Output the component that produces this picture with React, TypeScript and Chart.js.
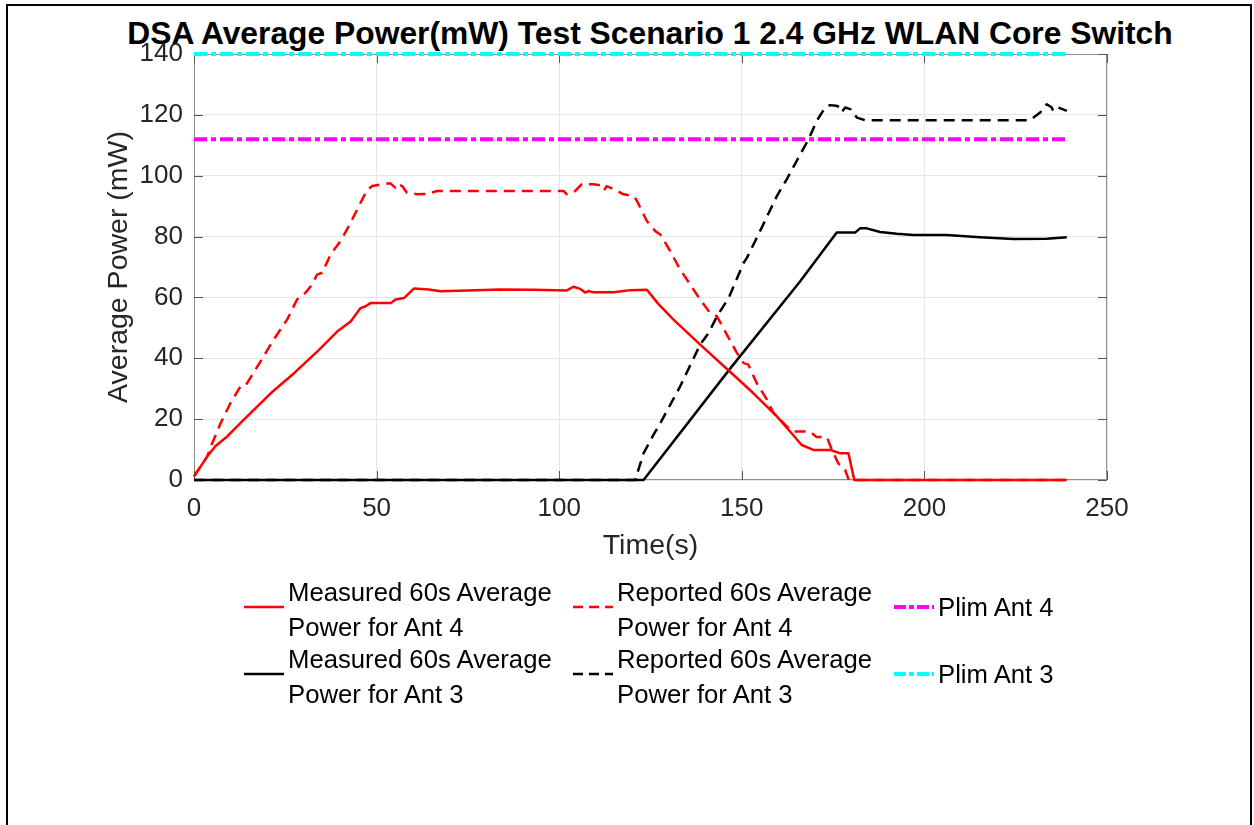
import React, { useEffect, useRef } from "react";
import { Chart, registerables } from "chart.js";

Chart.register(...registerables);

const TITLE = "DSA Average Power(mW) Test Scenario 1 2.4 GHz WLAN Core Switch";
const X_TITLE = "Time(s)";
const Y_TITLE = "Average Power (mW)";
const X_TICKS = [0, 50, 100, 150, 200, 250];
const Y_TICKS = [0, 20, 40, 60, 80, 100, 120, 140];

const measuredAnt4Time = [0, 3.6, 5.9, 9.1, 13.6, 21, 27.4, 33.8, 39.2, 42.9, 45.6, 47, 48.4, 53.9, 55.2, 57.5, 60.2, 64.3, 67.5, 74.8, 83.9, 93, 102.1, 103.9, 105.8, 107.1, 108, 109.4, 114.9, 119.5, 124, 127.2, 131.3, 138.6, 146.4, 153.2, 159.6, 162.8, 166.4, 169.6, 174.2, 176.9, 179.2, 180.8, 239];
const measuredAnt4Power = [1.2, 7.7, 11.2, 14.3, 19.8, 28.5, 35.1, 42.3, 48.8, 52.1, 56.5, 57.1, 58.2, 58.2, 59.3, 59.8, 62.9, 62.6, 62, 62.3, 62.6, 62.5, 62.3, 63.5, 62.8, 61.6, 62.1, 61.7, 61.7, 62.4, 62.5, 57.8, 52.7, 44.5, 36, 28.5, 20.9, 16.5, 11.5, 9.9, 9.9, 8.8, 8.8, 0, 0];

const reportedAnt4Time = [0, 3.6, 5, 7.3, 10, 12.7, 14.1, 16.8, 21.8, 25.5, 28.2, 30.5, 32.3, 33.7, 35.1, 37.4, 40.1, 42.4, 45.6, 47.4, 48.8, 51.5, 53.8, 55.1, 55.6, 57, 58.3, 61.1, 63.8, 66.6, 101.2, 102.1, 104.4, 106.2, 109.4, 111.4, 112.3, 113, 115.4, 117.6, 120.4, 121.3, 124, 126.3, 127.7, 130.4, 133.1, 135.9, 138.6, 141.3, 143.2, 145.9, 148.7, 150.5, 151.8, 154.1, 156.9, 158.7, 162.3, 164.2, 168.7, 170.5, 173.3, 174.7, 176.4, 178.3, 179.3, 239];
const reportedAnt4Power = [1.2, 7.7, 12.1, 18.7, 25.3, 30.7, 31, 36.2, 46.1, 52.7, 59.3, 61.5, 64.2, 67.5, 68.1, 74.1, 78.5, 83.4, 91.1, 95.3, 96.6, 97.2, 97.5, 96.1, 97.3, 96.6, 94.4, 93.9, 94, 95, 95, 93.9, 95, 97.2, 97.2, 96.8, 95.2, 96.6, 95.3, 93.9, 93.3, 91.7, 85.1, 81.8, 80.7, 75.2, 69.2, 64.2, 59.3, 54.9, 53.8, 47.8, 41.7, 38.4, 37.9, 31.8, 26.4, 22, 17.6, 15.9, 15.9, 14.1, 14.1, 9.9, 5.5, 3.3, 0, 0];

const measuredAnt3Time = [0, 123.1, 146.8, 166, 176, 181, 182.4, 184.2, 187.9, 192.4, 197, 206.1, 215.2, 224.4, 233.5, 239];
const measuredAnt3Power = [0, 0, 36.6, 65.3, 81.3, 81.3, 82.7, 82.7, 81.5, 80.9, 80.5, 80.5, 79.8, 79.2, 79.3, 79.8];

const reportedAnt3Time = [0, 120.8, 123.1, 125.8, 127.7, 133.1, 138.6, 140.9, 143.2, 146.4, 150.5, 151.4, 155, 159.6, 162.3, 166, 168.3, 170.5, 172.8, 174.2, 175.8, 177, 177.4, 178.3, 179.7, 181.5, 183.8, 228.9, 231.7, 233.5, 234.8, 235.3, 236.7, 239];
const reportedAnt3Power = [0, 0, 8.8, 14.8, 18.7, 30.7, 44.5, 48.3, 53.8, 59.8, 71.4, 73, 81.8, 93.3, 98.8, 107, 112, 118, 122.4, 123.2, 123, 122.5, 121, 122.4, 121.9, 119.1, 118.2, 118.2, 120.8, 123.5, 122.5, 121.2, 122.4, 121.3];

const plimAnt4Time = [0, 239];
const plimAnt4Power = [112, 112];
const plimAnt3Time = [0, 239];
const plimAnt3Power = [140, 140];

const FONT = "'Liberation Sans', Arial, Helvetica, sans-serif";
const DASH = [11, 7];
const DASH_DOT = [13, 4, 5, 4];

const toPoints = (t: number[], v: number[]) => t.map((x, i) => ({ x, y: v[i] }));

const LEGEND = [
  { lines: ["Measured 60s Average", "Power for Ant 4"], color: "#ff0000", dash: [] as number[], x: 244, y: 607 },
  { lines: ["Measured 60s Average", "Power for Ant 3"], color: "#000000", dash: [] as number[], x: 244, y: 674 },
  { lines: ["Reported 60s Average", "Power for Ant 4"], color: "#ff0000", dash: [10, 6], x: 573, y: 607 },
  { lines: ["Reported 60s Average", "Power for Ant 3"], color: "#000000", dash: [10, 6], x: 573, y: 674 },
  { lines: ["Plim Ant 4"], color: "#ff00ff", dash: [12, 3, 5, 3], x: 894, y: 607 },
  { lines: ["Plim Ant 3"], color: "#00ffff", dash: [12, 3, 5, 3], x: 894, y: 674 },
];

const boxPlugin = {
  id: "matlabBox",
  beforeDatasetsDraw(chart: any) {
    const { ctx, chartArea: a, scales } = chart;
    ctx.save();
    ctx.strokeStyle = "#8f8f8f";
    ctx.lineWidth = 1;
    ctx.strokeRect(Math.round(a.left) + 0.5, Math.round(a.top) + 0.5, Math.round(a.right - a.left) - 1, Math.round(a.bottom - a.top) - 1);
    ctx.strokeStyle = "#555555";
    const L = 9;
    ctx.beginPath();
    scales.x.ticks.forEach((t: any) => {
      const px = Math.round(scales.x.getPixelForValue(t.value)) + 0.5;
      ctx.moveTo(px, a.bottom);
      ctx.lineTo(px, a.bottom - L);
      ctx.moveTo(px, a.top);
      ctx.lineTo(px, a.top + L);
    });
    scales.y.ticks.forEach((t: any) => {
      const py = Math.round(scales.y.getPixelForValue(t.value)) + 0.5;
      ctx.moveTo(a.left, py);
      ctx.lineTo(a.left + L, py);
      ctx.moveTo(a.right, py);
      ctx.lineTo(a.right - L, py);
    });
    ctx.stroke();
    ctx.restore();
  },
};

export default function App() {
  const ref = useRef<HTMLCanvasElement | null>(null);
  useEffect(() => {
    if (!ref.current) return;
    const common = { pointRadius: 0, tension: 0, fill: false, clip: false as any, borderJoinStyle: "round" as const };
    const chart = new Chart(ref.current, {
      type: "line",
      data: {
        datasets: [
          { ...common, label: "Reported 60s Average Power for Ant 4", data: toPoints(reportedAnt4Time, reportedAnt4Power), borderColor: "#ff0000", borderWidth: 2.5, borderDash: DASH },
          { ...common, label: "Measured 60s Average Power for Ant 4", data: toPoints(measuredAnt4Time, measuredAnt4Power), borderColor: "#ff0000", borderWidth: 2.5 },
          { ...common, label: "Reported 60s Average Power for Ant 3", data: toPoints(reportedAnt3Time, reportedAnt3Power), borderColor: "#000000", borderWidth: 2.5, borderDash: DASH },
          { ...common, label: "Measured 60s Average Power for Ant 3", data: toPoints(measuredAnt3Time, measuredAnt3Power), borderColor: "#000000", borderWidth: 2.5 },
          { ...common, label: "Plim Ant 4", data: toPoints(plimAnt4Time, plimAnt4Power), borderColor: "#ff00ff", borderWidth: 4, borderDash: DASH_DOT },
          { ...common, label: "Plim Ant 3", data: toPoints(plimAnt3Time, plimAnt3Power), borderColor: "#00ffff", borderWidth: 4, borderDash: DASH_DOT },
        ],
      },
      options: {
        responsive: false,
        animation: false,
        devicePixelRatio: 1,
        layout: { padding: { left: 0, right: 147, top: 54, bottom: 0 } },
        plugins: {
          legend: { display: false },
          tooltip: { enabled: false },
          title: { display: false },
        },
        scales: {
          x: {
            type: "linear",
            min: 0,
            max: 250,
            afterBuildTicks: (s: any) => { s.ticks = X_TICKS.map((v) => ({ value: v })); },
            afterFit: (s: any) => { s.height = 345; },
            ticks: { color: "#262626", font: { family: FONT, size: 26 }, padding: 13, maxRotation: 0 },
            grid: { color: "#e6e6e6", drawTicks: false },
            border: { display: false },
            title: { display: true, text: X_TITLE, color: "#262626", font: { family: FONT, size: 28.5 }, padding: { top: 0, bottom: 262 } },
          },
          y: {
            type: "linear",
            min: 0,
            max: 140,
            afterBuildTicks: (s: any) => { s.ticks = Y_TICKS.map((v) => ({ value: v })); },
            afterFit: (s: any) => { s.width = 194; },
            ticks: { color: "#262626", font: { family: FONT, size: 26 }, padding: 11 },
            grid: { color: "#e6e6e6", drawTicks: false },
            border: { display: false },
            title: { display: true, text: Y_TITLE, color: "#262626", font: { family: FONT, size: 28.5 }, padding: { top: 102, bottom: 0 } },
          },
        },
      },
      plugins: [boxPlugin],
    });
    return () => chart.destroy();
  }, []);

  return (
    <div style={{ position: "fixed", left: 0, top: 0, width: 1254, height: 825, background: "#ffffff", overflow: "hidden" }}>
      <div style={{ position: "absolute", left: 6, top: 4, width: 1246, height: 900, border: "2px solid #000", boxSizing: "border-box" }} />
      <div
        style={{
          position: "absolute",
          left: 50,
          top: 14,
          width: 1200,
          textAlign: "center",
          fontFamily: FONT,
          fontWeight: "bold",
          fontSize: 31.8,
          lineHeight: "38px",
          color: "#000",
          whiteSpace: "nowrap",
        }}
      >
        {TITLE}
      </div>
      <canvas ref={ref} width={1254} height={825} style={{ position: "absolute", left: 0, top: 0, width: 1254, height: 825 }} />
      {LEGEND.map((e, i) => (
        <React.Fragment key={i}>
          <svg style={{ position: "absolute", left: e.x, top: e.y - 5 }} width={40} height={10}>
            <line x1={0} y1={5} x2={40} y2={5} stroke={e.color} strokeWidth={e.color === "#ff00ff" || e.color === "#00ffff" ? 4 : 2.5} strokeDasharray={e.dash.length ? e.dash.join(" ") : undefined} />
          </svg>
          <div
            style={{
              position: "absolute",
              left: e.x + 44,
              top: e.lines.length === 2 ? e.y - 32 : e.y - 17.5,
              fontFamily: FONT,
              fontSize: 25.7,
              lineHeight: "35px",
              color: "#000",
              whiteSpace: "nowrap",
            }}
          >
            {e.lines.map((l, j) => (
              <div key={j}>{l}</div>
            ))}
          </div>
        </React.Fragment>
      ))}
    </div>
  );
}
